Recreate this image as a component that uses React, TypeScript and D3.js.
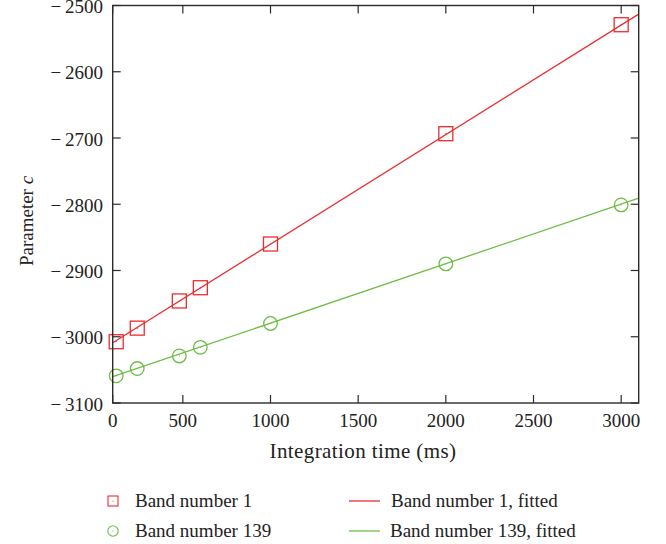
import React from "react";
import * as d3 from "d3";

const timesMs = [120, 240, 480, 600, 1000, 2000, 3000];
const band1 = [-3007.5, -2987, -2946, -2926, -2860, -2693.5, -2529];
const band139 = [-3059, -3048, -3029, -3016, -2980, -2890, -2801];

const fitX = [100, 3100];
const fit1 = [-3009, -2513];
const fit139 = [-3060.3, -2790.9];

const xTickValues = [100, 500, 1000, 1500, 2000, 2500, 3000];
const xTickLabels = ["0", "500", "1000", "1500", "2000", "2500", "3000"];
const yTickValues = [-2500, -2600, -2700, -2800, -2900, -3000, -3100];

const RED = "#ee2b2e";
const GREEN = "#6cbd45";
const AXIS = "#2b2b2b";
const TEXT = "#222";
const FONT = "'Liberation Serif', 'DejaVu Serif', serif";

export default function App() {
  const W = 666, H = 544;
  const left = 112.7, right = 638.7, top = 5.5, bottom = 403;
  const x = d3.scaleLinear().domain([100, 3100]).range([left, right]);
  const y = d3.scaleLinear().domain([-3100, -2500]).range([bottom, top]);
  const line = d3.line<[number, number]>().x(d => x(d[0])).y(d => y(d[1]));
  const tick = 8;

  const fitPts1: [number, number][] = fitX.map((v, i) => [v, fit1[i]]);
  const fitPts139: [number, number][] = fitX.map((v, i) => [v, fit139[i]]);

  return (
    <svg width={W} height={H} style={{ position: "absolute", left: 0, top: 0, background: "#fff" }} fontFamily={FONT}>
      <defs>
        <clipPath id="plotclip">
          <rect x={left} y={top} width={right - left} height={bottom - top} />
        </clipPath>
      </defs>
      <g clipPath="url(#plotclip)">
        <path d={line(fitPts1) || ""} fill="none" stroke={RED} strokeWidth={1.3} />
        <path d={line(fitPts139) || ""} fill="none" stroke={GREEN} strokeWidth={1.3} />
      </g>
      {timesMs.map((t, i) => (
        <g key={"s" + i}>
          <rect x={x(t) - 7} y={y(band1[i]) - 7} width={14} height={14} fill="none" stroke={RED} strokeWidth={1.3} />
          <circle cx={x(t)} cy={y(band1[i])} r={0.6} fill={RED} />
        </g>
      ))}
      {timesMs.map((t, i) => (
        <g key={"c" + i}>
          <circle cx={x(t)} cy={y(band139[i])} r={6.8} fill="none" stroke={GREEN} strokeWidth={1.3} />
          <circle cx={x(t)} cy={y(band139[i])} r={0.6} fill={GREEN} />
        </g>
      ))}
      <rect x={left} y={top} width={right - left} height={bottom - top} fill="none" stroke={AXIS} strokeWidth={1.4} />
      {xTickValues.map((v, i) => (
        <g key={"xt" + i}>
          <line x1={x(v)} x2={x(v)} y1={bottom} y2={bottom - tick} stroke={AXIS} strokeWidth={1.2} />
          <line x1={x(v)} x2={x(v)} y1={top} y2={top + tick} stroke={AXIS} strokeWidth={1.2} />
          <text x={x(v)} y={bottom + 24} textAnchor="middle" fontSize={19} fill={TEXT}>{xTickLabels[i]}</text>
        </g>
      ))}
      {yTickValues.map((v, i) => (
        <g key={"yt" + i}>
          <line x1={left} x2={left + tick} y1={y(v)} y2={y(v)} stroke={AXIS} strokeWidth={1.2} />
          <line x1={right} x2={right - tick} y1={y(v)} y2={y(v)} stroke={AXIS} strokeWidth={1.2} />
          <text x={103} y={y(v) + 7.5} textAnchor="end" fontSize={19} fill={TEXT}>{"\u2212\u2009" + Math.abs(v)}</text>
        </g>
      ))}
      <text x={363} y={458} textAnchor="middle" fontSize={21} letterSpacing={0.4} fill={TEXT}>Integration time (ms)</text>
      <text transform="translate(33,221) rotate(-90)" textAnchor="middle" fontSize={19} fill={TEXT}>
        Parameter <tspan fontStyle="italic">c</tspan>
      </text>
      <g>
        <rect x={113 - 5} y={501 - 5} width={10} height={10} fill="none" stroke={RED} strokeWidth={1.1} />
        <circle cx={113} cy={501} r={0.6} fill={RED} />
        <text x={135} y={507} fontSize={19} fill={TEXT}>Band number 1</text>
        <circle cx={113} cy={531} r={5.2} fill="none" stroke={GREEN} strokeWidth={1.1} />
        <circle cx={113} cy={531} r={0.6} fill={GREEN} />
        <text x={135} y={537} fontSize={19} fill={TEXT}>Band number 139</text>
        <line x1={349} x2={380} y1={501} y2={501} stroke={RED} strokeWidth={1.3} />
        <text x={391} y={507} fontSize={19} fill={TEXT}>Band number 1, fitted</text>
        <line x1={349} x2={380} y1={531} y2={531} stroke={GREEN} strokeWidth={1.3} />
        <text x={390} y={537} fontSize={19} fill={TEXT}>Band number 139, fitted</text>
      </g>
    </svg>
  );
}
